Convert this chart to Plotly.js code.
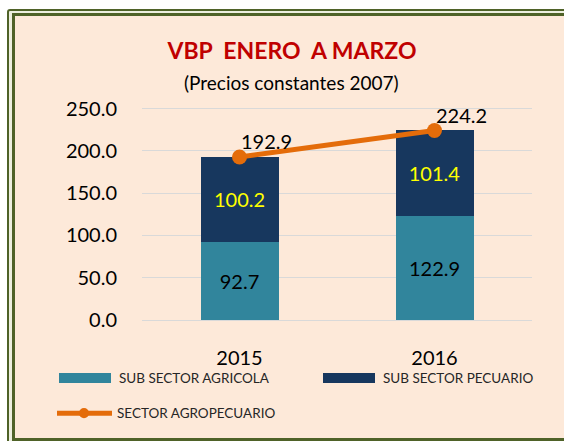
<!DOCTYPE html>
<html><head><meta charset="utf-8">
<script src="https://cdn.plot.ly/plotly-3.0.1.min.js"></script>
<style>
html,body{margin:0;padding:0;background:#fff;width:564px;height:441px;overflow:hidden}
#outer{position:absolute;left:7px;top:9px;width:620px;height:470px;box-sizing:border-box;border:2px solid #4F6228;background:#EDEFDF;border-radius:3px}
#inner{position:absolute;left:12px;top:13px;width:620px;height:428px;box-sizing:border-box;border:3px solid #4F6228;background:#FDE9D9}
#chart{position:absolute;left:0;top:0;width:564px;height:441px}
</style></head><body>
<div id="outer"></div><div id="inner"></div><div id="chart"></div>
<script>
// ---- data ----
const years = ['2015', '2016'];
const agricola = [92.7, 122.9];
const pecuario = [100.2, 101.4];
const agropecuario = [192.9, 224.2];
const seriesNames = ['SUB SECTOR AGRICOLA', 'SUB SECTOR PECUARIO', 'SECTOR AGROPECUARIO'];
const yTicks = [0, 50, 100, 150, 200, 250];
const titleText = 'VBP\u00A0 ENERO\u00A0 A MARZO';
const subtitleText = '(Precios constantes 2007)';

// ---- styling ----
const FONT = 'Lato, "Open Sans", sans-serif';
const C_AGR = '#31859C', C_PEC = '#17375E', C_LINE = '#E46C0A';
const W = 564, H = 441;
const M = {l: 142, r: 32, t: 107.3, b: 121};
const pw = W - M.l - M.r, ph = H - M.t - M.b;
const px = x => (x - M.l) / pw;
const py = y => (H - M.b - y) / ph;

const traces = [
  {type: 'bar', name: seriesNames[0], x: years, y: agricola, width: 0.4,
   marker: {color: C_AGR}, text: agricola.map(v => v.toFixed(1)),
   textposition: 'inside', insidetextanchor: 'middle', textangle: 0,
   textfont: {family: FONT, size: 20, color: '#000'}, hoverinfo: 'skip'},
  {type: 'bar', name: seriesNames[1], x: years, y: pecuario, width: 0.4,
   marker: {color: C_PEC}, text: pecuario.map(v => v.toFixed(1)),
   textposition: 'inside', insidetextanchor: 'middle', textangle: 0,
   textfont: {family: FONT, size: 20, color: '#FFFF00'}, hoverinfo: 'skip'},
  {type: 'scatter', mode: 'lines+markers', name: seriesNames[2], x: years, y: agropecuario,
   line: {color: C_LINE, width: 5}, marker: {color: C_LINE, size: 15},
   cliponaxis: false, hoverinfo: 'skip'}
];

const annotations = [
  {text: subtitleText, xref: 'paper', yref: 'paper', x: px(291), y: py(83),
   xanchor: 'center', yanchor: 'middle', showarrow: false,
   font: {family: FONT, size: 19, color: '#000'}}
];
agropecuario.forEach((v, i) => annotations.push({
  text: v.toFixed(1), x: i, y: v, xref: 'x', yref: 'y',
  xshift: 27, yshift: 16, xanchor: 'center', yanchor: 'middle', showarrow: false,
  font: {family: FONT, size: 20, color: '#000'}
}));

// custom legend
const legendItems = [
  {kind: 'bar', color: C_AGR, x: 59, y: 378},
  {kind: 'bar', color: C_PEC, x: 323, y: 378},
  {kind: 'line', color: C_LINE, x: 57, y: 413}
];
const shapes = [];
legendItems.forEach((it, i) => {
  if (it.kind === 'bar') {
    shapes.push({type: 'rect', xref: 'paper', yref: 'paper',
      x0: px(it.x), x1: px(it.x + 52), y0: py(it.y + 5), y1: py(it.y - 5),
      fillcolor: it.color, line: {width: 0}});
  } else {
    shapes.push({type: 'line', xref: 'paper', yref: 'paper',
      x0: px(it.x), x1: px(it.x + 55), y0: py(it.y), y1: py(it.y),
      line: {color: it.color, width: 5}});
    shapes.push({type: 'circle', xref: 'paper', yref: 'paper',
      x0: px(it.x + 22), x1: px(it.x + 32), y0: py(it.y + 5), y1: py(it.y - 5),
      fillcolor: it.color, line: {width: 0}});
  }
  annotations.push({text: seriesNames[i], xref: 'paper', yref: 'paper',
    x: px(it.x + 58), y: py(it.y), xanchor: 'left', yanchor: 'middle', showarrow: false,
    font: {family: FONT, size: 13.5, color: '#262626'}});
});

const layout = {
  width: W, height: H, margin: M,
  paper_bgcolor: 'rgba(0,0,0,0)', plot_bgcolor: 'rgba(0,0,0,0)',
  barmode: 'stack', showlegend: false,
  title: {text: titleText, xref: 'container', yref: 'container',
    x: 292 / W, y: 1 - 51 / H, xanchor: 'center', yanchor: 'middle',
    font: {family: FONT, size: 23, color: '#C00000', weight: 700}},
  xaxis: {type: 'category', range: [-0.5, 1.5], showgrid: false, showline: false, zeroline: false,
    ticks: 'outside', ticklen: 20, tickcolor: 'rgba(0,0,0,0)',
    tickfont: {family: FONT, size: 20, color: '#000'}, fixedrange: true},
  yaxis: {range: [0, 252], tickvals: yTicks, ticktext: yTicks.map(v => v.toFixed(1)),
    showgrid: true, gridcolor: '#D9D9D9', gridwidth: 1,
    zeroline: true, zerolinecolor: '#D9D9D9', zerolinewidth: 1, showline: false,
    ticks: 'outside', ticklen: 20, tickcolor: 'rgba(0,0,0,0)',
    tickfont: {family: FONT, size: 20, color: '#000'}, fixedrange: true},
  shapes: shapes, annotations: annotations
};

Plotly.newPlot('chart', traces, layout, {staticPlot: true, displayModeBar: false});
</script>
</body></html>
